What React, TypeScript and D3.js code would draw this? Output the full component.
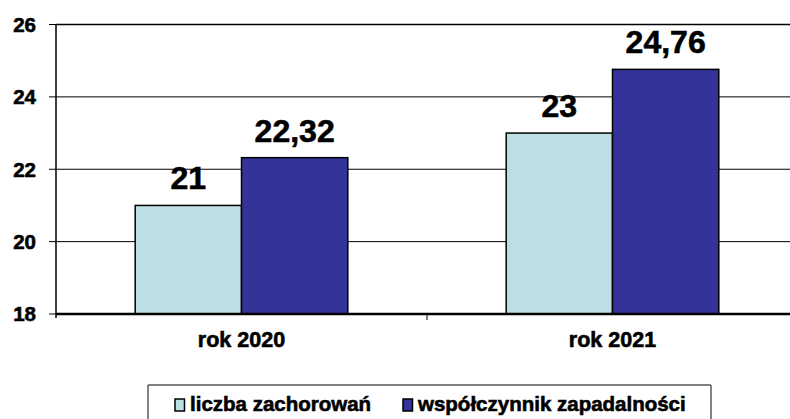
import React from "react";
import * as d3 from "d3";

const categories = ["rok 2020", "rok 2021"];
const seriesNames = ["liczba zachorowań", "współczynnik zapadalności"];
const casesValues = [21, 23];
const rateValues = [22.32, 24.76];
const yTicks = [18, 20, 22, 24, 26];
const seriesColors = ["#BBDFE2", "#333399"];

const W = 790;
const H = 419;
const FONT = "'Liberation Sans', Arial, Helvetica, sans-serif";

export default function App() {
  const left = 56;
  const top = 24.5;
  const bottom = 314;
  const y = d3.scaleLinear().domain([18, 26]).range([bottom, top]);
  const x0 = d3.scaleBand<string>().domain(categories).range([left, 798]).paddingInner(0).paddingOuter(0);
  const x1 = d3
    .scaleBand<string>()
    .domain(seriesNames)
    .range([0, x0.bandwidth()])
    .paddingInner(0)
    .paddingOuter(0.745);
  const seriesValues = [casesValues, rateValues];
  const fmt = (v: number) => (Number.isInteger(v) ? String(v) : v.toFixed(2).replace(".", ","));

  const legendTop = 385;
  const legendLeft = 148;
  const legendRight = 711;
  const legendItems = [
    { name: seriesNames[0], color: seriesColors[0], x: 175 },
    { name: seriesNames[1], color: seriesColors[1], x: 403 },
  ];
  const heavy = { stroke: "#000", strokeWidth: 0.6, paintOrder: "stroke" as const };

  return (
    <svg
      width={W}
      height={H}
      style={{ position: "absolute", left: 0, top: 0, display: "block", background: "#fff" }}
      fontFamily={FONT}
    >
      <rect x={0} y={0} width={W} height={H} fill="#fff" />
      {yTicks.slice(1).map((t) => (
        <line
          key={"g" + t}
          x1={left}
          x2={W}
          y1={y(t)}
          y2={y(t)}
          stroke="#000"
          strokeWidth={t === 26 ? 1.5 : 1}
        />
      ))}
      {yTicks.map((t) => (
        <g key={"t" + t}>
          <line x1={49} x2={left} y1={y(t)} y2={y(t)} stroke="#000" strokeWidth={1} />
          <text
            x={36}
            y={y(t)}
            dy="0.36em"
            textAnchor="end"
            fontSize={20.5}
            fontWeight="bold"
            fill="#000"
            {...heavy}
          >
            {t}
          </text>
        </g>
      ))}
      {categories.map((c, ci) => (
        <g key={c} transform={`translate(${x0(c)},0)`}>
          {seriesNames.map((s, si) => {
            const v = seriesValues[si][ci];
            const bx = x1(s) as number;
            return (
              <g key={s}>
                <rect
                  x={bx}
                  y={y(v)}
                  width={x1.bandwidth()}
                  height={bottom - y(v)}
                  fill={seriesColors[si]}
                  stroke="#000"
                  strokeWidth={1.5}
                />
                <text
                  x={bx + x1.bandwidth() / 2}
                  y={y(v) - 16}
                  textAnchor="middle"
                  fontSize={32}
                  fontWeight="bold"
                  fill="#000"
                  {...heavy}
                >
                  {fmt(v)}
                </text>
              </g>
            );
          })}
        </g>
      ))}
      <line x1={left} x2={left} y1={top} y2={bottom + 4} stroke="#000" strokeWidth={1.5} />
      <line x1={left} x2={W} y1={bottom} y2={bottom} stroke="#000" strokeWidth={2.5} />
      {categories.slice(1).map((c) => (
        <line
          key={"ct" + c}
          x1={x0(c) as number}
          x2={x0(c) as number}
          y1={bottom}
          y2={bottom + 6}
          stroke="#000"
          strokeWidth={1}
        />
      ))}
      {categories.map((c) => (
        <text
          key={"cl" + c}
          x={(x0(c) as number) + x0.bandwidth() / 2}
          y={347}
          textAnchor="middle"
          fontSize={21.5}
          fontWeight="bold"
          fill="#000"
          {...heavy}
        >
          {c}
        </text>
      ))}
      <path
        d={`M${legendLeft},${H + 2}V${legendTop}H${legendRight}V${H + 2}`}
        fill="none"
        stroke="#000"
        strokeWidth={1}
      />
      <line x1={legendRight} x2={legendRight} y1={legendTop} y2={H} stroke="#888" strokeWidth={1} />
      <line x1={legendLeft} x2={legendLeft} y1={legendTop} y2={H} stroke="#888" strokeWidth={1} />
      {legendItems.map((it) => (
        <g key={it.name}>
          <rect x={it.x} y={399} width={9.5} height={12} fill={it.color} stroke="#000" strokeWidth={1.5} />
          <text x={it.x + 15} y={411} fontSize={20.5} fontWeight="bold" fill="#000" {...heavy}>
            {it.name}
          </text>
        </g>
      ))}
    </svg>
  );
}
